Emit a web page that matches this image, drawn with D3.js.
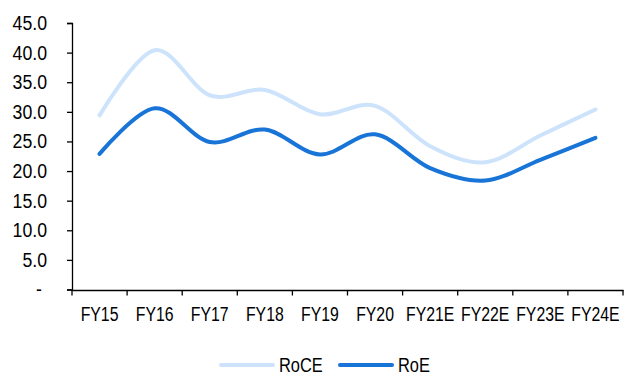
<!DOCTYPE html>
<html><head><meta charset="utf-8">
<script src="https://cdn.jsdelivr.net/npm/d3@7"></script>
<style>
html,body{margin:0;padding:0;background:#fff;}
svg{display:block;}
text{font-family:"Liberation Sans",Arial,sans-serif;fill:#000;}
</style></head>
<body>
<svg id="chart" width="633" height="376"></svg>
<script>
const categories = ["FY15","FY16","FY17","FY18","FY19","FY20","FY21E","FY22E","FY23E","FY24E"];
const roce = [29.4, 40.4, 32.8, 33.7, 29.6, 31.0, 24.2, 21.5, 26.0, 30.4];
const roe  = [22.9, 30.6, 24.9, 27.0, 22.8, 26.2, 20.5, 18.4, 21.9, 25.6];
const yTicks = [0,5,10,15,20,25,30,35,40,45];
const seriesNames = ["RoCE","RoE"];
const colors = ["#cde3fb","#1874d6"];

const FONT = '"Liberation Sans",Arial,sans-serif';
function condense(sel, ratio){
  sel.each(function(){
    const w = this.getComputedTextLength();
    if (w > 0) {
      this.setAttribute("textLength", (w*ratio).toFixed(2));
      this.setAttribute("lengthAdjust","spacingAndGlyphs");
    }
  });
}

const svg = d3.select("#chart");
const x = d3.scaleBand().domain(categories).range([72, 623]);
const y = d3.scaleLinear().domain([0,45]).range([289.5, 23]);

// y axis
const yAxis = svg.append("g").attr("transform","translate(72,0)")
  .call(d3.axisLeft(y).tickValues(yTicks).tickSize(5).tickPadding(20)
    .tickFormat(d => d===0 ? "-" : d3.format(".1f")(d)));
yAxis.select(".domain").attr("stroke","#000").attr("stroke-width",1.3);
yAxis.selectAll(".tick line").attr("stroke","#000").attr("stroke-width",1.3);
yAxis.selectAll(".tick text").attr("font-size",20).attr("fill","#000")
  .attr("font-family",FONT)
  .attr("dx", d => d===0 ? -5 : 0);
condense(yAxis.selectAll(".tick text"), 0.885);

// x axis
const xAxis = svg.append("g").attr("transform","translate(0,290)")
  .call(d3.axisBottom(x).tickSize(0).tickPadding(0));
xAxis.select(".domain").attr("stroke","#000").attr("stroke-width",1.3);
xAxis.selectAll(".tick text").attr("font-size",20).attr("fill","#000")
  .attr("font-family",FONT)
  .attr("dy","1.55em");
condense(xAxis.selectAll(".tick text"), 0.79);
// boundary ticks
const bounds = categories.map(c => x(c)).concat([x.range()[1]]);
svg.append("g").selectAll("line").data(bounds).join("line")
  .attr("x1", d=>d).attr("x2", d=>d).attr("y1",290).attr("y2",295.5)
  .attr("stroke","#000").attr("stroke-width",1.3);

// lines
const line = d3.line()
  .x((d,i) => x(categories[i]) + x.bandwidth()/2)
  .y(d => y(d))
  .curve(d3.curveCardinal.tension(0));
[roce, roe].forEach((s,i) => {
  svg.append("path").datum(s).attr("d", line)
    .attr("fill","none").attr("stroke",colors[i]).attr("stroke-width",4)
    .attr("stroke-linecap","round");
});

// legend
const leg = [{x1:221,x2:273,tx:279},{x1:340,x2:392,tx:398}];
seriesNames.forEach((n,i) => {
  svg.append("line").attr("x1",leg[i].x1).attr("x2",leg[i].x2)
    .attr("y1",365).attr("y2",365).attr("stroke",colors[i]).attr("stroke-width",4)
    .attr("stroke-linecap","round");
  const t = svg.append("text").attr("x",leg[i].tx).attr("y",372)
    .attr("font-size",20).attr("font-family",FONT).text(n);
  condense(t, 0.82);
});
</script>
</body></html>
